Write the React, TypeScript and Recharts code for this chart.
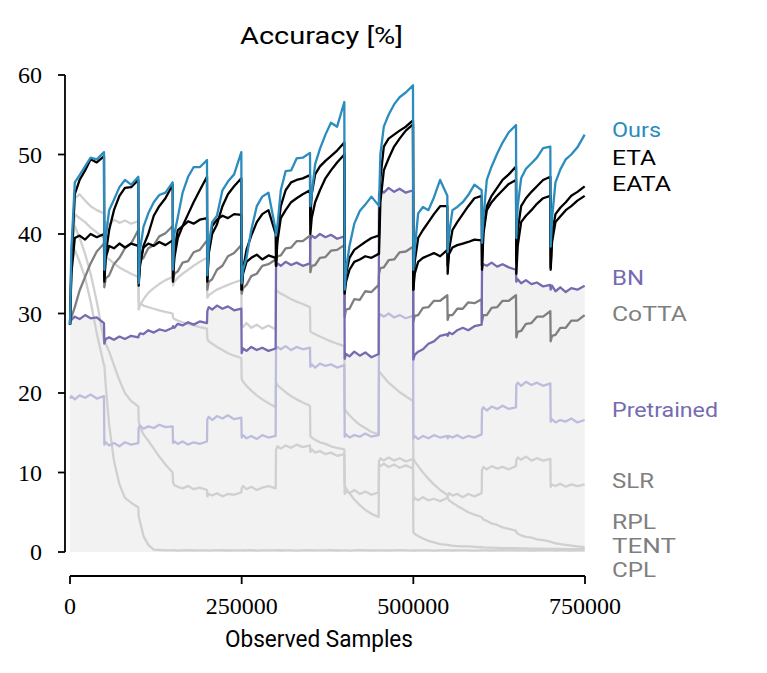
import React from 'react';
import { ComposedChart, Line, Area, XAxis, YAxis, ReferenceLine } from 'recharts';

// ---------- data ----------
const SEGMENT_SIZE = 50000;
const SEGMENT_OFFSETS = [0, 2000, 7000, 14000, 22000, 30000, 39000, 49500];
const NUM_SEGMENTS = 15;
const X_TICKS = [0, 250000, 500000, 750000];
const Y_TICKS = [0, 10, 20, 30, 40, 50, 60];

const OURS = [
  [28.6, 38.0, 46.5, 47.4, 48.5, 49.6, 49.4, 50.3],
  [35.5, 39.5, 43.0, 44.3, 45.9, 46.8, 46.2, 47.2],
  [33.8, 38.0, 40.9, 42.6, 44.0, 44.9, 45.2, 46.5],
  [35.5, 40.0, 42.1, 45.2, 47.2, 48.4, 48.4, 49.3],
  [34.8, 38.5, 41.5, 42.3, 45.5, 46.6, 47.5, 50.3],
  [33.8, 35.5, 37.0, 40.5, 43.5, 44.7, 45.2, 40.5],
  [39.8, 41.0, 45.5, 47.9, 48.0, 49.5, 49.6, 50.2],
  [43.5, 45.0, 48.8, 50.7, 52.5, 54.0, 53.5, 56.6],
  [33.0, 35.5, 38.5, 41.3, 42.9, 43.7, 44.7, 43.6],
  [43.5, 50.0, 53.5, 55.0, 56.3, 57.2, 57.8, 58.7],
  [35.5, 38.0, 42.6, 43.4, 43.0, 44.6, 46.8, 44.8],
  [37.7, 40.0, 43.0, 43.4, 44.0, 44.9, 46.2, 45.5],
  [38.9, 42.0, 46.8, 48.5, 50.1, 51.5, 52.8, 53.7],
  [39.5, 43.5, 47.0, 48.2, 48.9, 49.6, 50.8, 51.0],
  [38.4, 42.0, 46.5, 48.1, 49.4, 50.0, 50.9, 52.5],
];

const ETA = [
  [28.6, 36.0, 45.0, 46.8, 48.0, 49.4, 49.0, 49.8],
  [34.5, 37.5, 40.5, 43.0, 44.8, 45.8, 45.9, 46.8],
  [34.0, 36.0, 38.5, 40.0, 42.3, 43.5, 44.5, 46.2],
  [34.5, 37.0, 39.5, 41.0, 42.5, 44.0, 45.5, 47.2],
  [34.5, 37.5, 40.0, 41.2, 43.5, 45.0, 46.0, 47.0],
  [33.0, 35.5, 38.0, 39.8, 41.5, 42.5, 43.0, 40.0],
  [36.0, 40.0, 43.5, 45.5, 46.5, 46.8, 47.0, 47.4],
  [42.0, 45.0, 47.5, 48.5, 49.2, 49.8, 50.5, 51.5],
  [33.0, 35.0, 37.0, 38.0, 38.5, 39.0, 39.5, 39.8],
  [39.8, 47.0, 51.0, 52.0, 52.5, 53.0, 53.5, 54.3],
  [33.0, 36.5, 39.5, 40.5, 41.5, 42.5, 43.5, 43.5],
  [35.0, 38.0, 40.5, 41.5, 42.5, 43.5, 44.5, 44.8],
  [36.0, 40.5, 43.5, 44.8, 45.8, 46.8, 47.5, 48.5],
  [36.5, 40.5, 43.5, 44.5, 45.3, 46.0, 46.8, 47.2],
  [35.8, 40.0, 42.5, 43.3, 44.0, 44.8, 45.3, 46.0],
];

const EATA = [
  [28.6, 35.0, 39.5, 39.8, 39.3, 40.0, 39.6, 40.0],
  [34.0, 37.0, 38.5, 38.2, 38.8, 38.3, 38.8, 38.5],
  [33.5, 36.5, 38.3, 38.8, 38.5, 39.0, 38.6, 39.2],
  [34.0, 38.0, 40.5, 41.0, 41.6, 41.3, 41.8, 42.0],
  [34.0, 38.0, 41.0, 41.8, 42.3, 42.0, 42.5, 42.4],
  [33.0, 35.0, 36.5, 37.0, 37.4, 36.8, 37.3, 37.0],
  [36.0, 39.0, 42.0, 43.0, 44.0, 44.5, 45.0, 45.5],
  [40.0, 42.0, 44.0, 45.5, 47.0, 48.0, 49.0, 50.0],
  [32.5, 34.0, 35.5, 36.5, 36.8, 37.2, 37.0, 37.5],
  [37.5, 44.0, 48.0, 49.5, 51.0, 52.0, 53.0, 53.8],
  [33.0, 35.0, 36.5, 37.0, 37.3, 37.6, 37.2, 38.0],
  [36.0, 37.5, 38.3, 38.6, 38.8, 39.0, 39.3, 39.2],
  [35.5, 40.0, 43.0, 44.0, 44.8, 45.5, 46.3, 46.8],
  [35.0, 38.5, 41.5, 42.3, 43.0, 43.8, 44.5, 44.8],
  [35.5, 39.0, 41.5, 42.2, 43.0, 43.5, 44.2, 44.8],
];

const BN = [
  [28.8, 29.2, 29.6, 29.3, 29.8, 29.4, 29.5, 28.8],
  [26.2, 26.8, 27.0, 26.7, 27.1, 26.8, 27.2, 27.0],
  [27.2, 27.5, 27.4, 27.9, 27.6, 28.0, 27.8, 28.2],
  [28.4, 28.2, 28.7, 28.5, 28.9, 28.6, 29.0, 28.8],
  [30.3, 30.8, 30.5, 31.0, 30.6, 30.9, 30.4, 30.6],
  [25.0, 25.6, 25.3, 25.8, 25.4, 25.7, 25.3, 25.6],
  [35.8, 36.3, 36.0, 36.5, 36.1, 36.4, 36.0, 36.3],
  [39.3, 39.8, 39.5, 40.0, 39.6, 39.9, 39.4, 39.7],
  [24.3, 24.9, 24.6, 25.2, 24.7, 25.1, 24.5, 24.9],
  [45.0, 45.6, 45.2, 45.8, 45.3, 45.7, 45.2, 45.5],
  [24.2, 24.8, 25.2, 25.5, 26.2, 26.5, 27.2, 27.4],
  [27.2, 27.6, 27.4, 27.9, 28.2, 27.9, 28.4, 28.6],
  [35.6, 36.2, 36.0, 36.4, 35.9, 36.2, 35.8, 35.5],
  [34.0, 34.3, 33.8, 34.2, 33.7, 33.9, 33.4, 33.6],
  [33.0, 33.5, 32.8, 33.3, 32.7, 33.2, 33.0, 33.5],
];

const COTTA = [
  [28.6, 29.5, 30.8, 32.9, 34.6, 36.3, 37.8, 38.8],
  [33.3, 34.4, 34.8, 36.2, 37.0, 38.2, 38.8, 40.5],
  [36.0, 36.6, 37.0, 38.2, 38.6, 39.7, 40.1, 41.0],
  [34.0, 35.0, 35.3, 36.4, 36.6, 37.7, 38.0, 39.2],
  [33.0, 34.0, 34.3, 35.5, 36.0, 37.2, 37.6, 38.6],
  [32.5, 33.2, 33.6, 34.7, 35.0, 36.0, 36.2, 36.8],
  [36.5, 37.2, 37.3, 38.2, 38.3, 39.1, 39.1, 39.8],
  [35.2, 36.0, 36.1, 37.0, 37.1, 37.9, 38.0, 38.6],
  [29.6, 30.5, 30.6, 31.8, 31.7, 32.8, 32.7, 33.6],
  [35.0, 35.7, 35.8, 36.7, 36.8, 37.7, 37.8, 38.4],
  [29.0, 29.7, 29.8, 30.7, 30.8, 31.6, 31.6, 32.3],
  [29.2, 29.8, 29.8, 30.6, 30.6, 31.4, 31.3, 31.8],
  [29.0, 29.8, 29.8, 30.7, 30.8, 31.6, 31.6, 32.3],
  [27.0, 27.7, 27.8, 28.7, 28.8, 29.6, 29.6, 30.3],
  [26.5, 27.2, 27.3, 28.2, 28.2, 29.1, 29.1, 29.8],
];

const PRETRAINED = [
  [19.3, 19.6, 19.2, 19.7, 19.4, 19.8, 19.3, 19.6],
  [13.5, 13.8, 13.4, 13.7, 13.3, 13.8, 13.5, 13.7],
  [15.6, 15.9, 15.5, 15.8, 15.6, 16.0, 15.7, 15.8],
  [13.7, 13.9, 13.6, 13.9, 13.5, 13.8, 13.6, 13.9],
  [16.7, 17.0, 16.6, 17.1, 16.8, 17.2, 16.7, 16.9],
  [14.4, 14.7, 14.3, 14.6, 14.2, 14.7, 14.4, 14.6],
  [25.4, 25.8, 25.5, 25.9, 25.4, 25.8, 25.5, 25.7],
  [23.3, 23.6, 23.2, 23.7, 23.4, 23.6, 23.2, 23.5],
  [14.5, 14.8, 14.4, 14.7, 14.5, 14.9, 14.5, 14.7],
  [29.5, 29.9, 29.6, 30.0, 29.5, 29.8, 29.4, 29.7],
  [14.3, 14.6, 14.2, 14.6, 14.3, 14.7, 14.4, 14.6],
  [14.3, 14.6, 14.4, 14.7, 14.3, 14.6, 14.4, 14.8],
  [17.9, 18.2, 17.8, 18.3, 18.0, 18.4, 18.0, 18.2],
  [21.0, 21.3, 20.9, 21.4, 21.0, 21.3, 20.9, 21.2],
  [16.4, 16.7, 16.3, 16.6, 16.4, 16.8, 16.3, 16.6],
];

const SLR = [
  [28.6, 38.0, 41.0, 39.5, 37.5, 35.0, 31.5, 26.5],
  [26.5, 26.2, 25.2, 23.5, 21.6, 20.0, 19.0, 18.3],
  [16.5, 15.7, 14.8, 14.0, 13.0, 12.0, 11.0, 10.0],
  [8.8, 8.4, 8.2, 8.0, 8.3, 7.9, 8.1, 7.8],
  [7.0, 7.3, 7.1, 7.4, 7.0, 7.3, 7.2, 7.5],
  [8.0, 8.3, 7.9, 8.2, 7.8, 8.1, 8.3, 8.0],
  [12.8, 13.3, 13.0, 13.4, 13.1, 13.5, 13.2, 13.4],
  [12.6, 12.9, 12.5, 12.7, 12.3, 12.5, 12.1, 12.3],
  [7.3, 7.6, 7.4, 7.8, 7.3, 7.6, 7.2, 7.5],
  [11.4, 11.8, 11.5, 11.9, 11.5, 11.8, 11.4, 11.7],
  [6.4, 6.8, 6.5, 6.9, 6.5, 6.7, 6.4, 6.8],
  [7.0, 7.4, 7.1, 7.3, 6.9, 7.3, 7.0, 7.4],
  [10.3, 10.7, 10.4, 10.8, 10.5, 10.7, 10.4, 10.8],
  [11.5, 11.9, 11.6, 12.0, 11.5, 11.8, 11.5, 11.7],
  [8.2, 8.5, 8.3, 8.6, 8.2, 8.5, 8.3, 8.5],
];

const RPL = [
  [28.6, 38.0, 44.5, 45.0, 44.2, 43.5, 43.0, 42.6],
  [41.0, 41.5, 41.2, 41.8, 41.4, 41.7, 41.3, 41.6],
  [30.5, 31.0, 31.8, 32.6, 33.2, 33.7, 34.2, 34.6],
  [33.5, 34.0, 34.5, 35.0, 35.5, 36.0, 36.5, 37.0],
  [32.0, 32.3, 32.6, 33.0, 33.3, 33.6, 33.9, 34.2],
  [28.6, 28.3, 28.8, 28.2, 28.6, 28.1, 28.5, 28.0],
  [33.0, 32.8, 32.5, 32.2, 31.8, 31.5, 31.2, 30.8],
  [27.8, 27.6, 27.4, 27.1, 26.8, 26.5, 26.2, 25.9],
  [18.0, 17.7, 17.2, 16.6, 16.0, 15.6, 15.1, 14.8],
  [22.8, 22.5, 22.0, 21.3, 20.7, 20.1, 19.6, 19.0],
  [11.8, 11.4, 10.8, 10.0, 9.2, 8.5, 7.8, 7.2],
  [6.8, 6.5, 6.2, 5.8, 5.4, 5.0, 4.7, 4.4],
  [4.3, 4.1, 3.9, 3.6, 3.4, 3.1, 2.9, 2.7],
  [2.5, 2.3, 2.1, 1.9, 1.8, 1.6, 1.5, 1.3],
  [1.3, 1.2, 1.1, 1.0, 0.9, 0.8, 0.7, 0.6],
];

const TENT = [
  [28.6, 37.0, 42.5, 42.0, 41.5, 40.8, 40.2, 39.5],
  [37.5, 37.2, 36.8, 36.3, 35.8, 35.4, 35.0, 34.6],
  [31.5, 31.3, 31.0, 30.8, 30.6, 30.4, 30.2, 30.0],
  [29.5, 29.3, 29.1, 28.9, 28.7, 28.5, 28.3, 28.1],
  [26.8, 26.5, 26.2, 25.8, 25.4, 25.0, 24.7, 24.4],
  [21.8, 21.4, 20.9, 20.3, 19.7, 19.2, 18.7, 18.2],
  [21.3, 21.0, 20.6, 20.1, 19.6, 19.2, 18.8, 18.4],
  [14.6, 14.4, 14.1, 13.8, 13.6, 13.3, 13.1, 12.9],
  [8.3, 8.0, 7.4, 6.6, 5.9, 5.3, 4.8, 4.4],
  [11.0, 10.8, 11.1, 10.7, 11.0, 10.6, 10.9, 10.5],
  [2.5, 2.3, 2.0, 1.7, 1.4, 1.2, 1.0, 0.9],
  [0.9, 0.85, 0.8, 0.75, 0.7, 0.7, 0.65, 0.6],
  [0.6, 0.58, 0.55, 0.55, 0.52, 0.5, 0.5, 0.48],
  [0.48, 0.46, 0.45, 0.45, 0.43, 0.42, 0.42, 0.4],
  [0.4, 0.4, 0.38, 0.38, 0.36, 0.36, 0.35, 0.35],
];

const CPL = [
  [28.6, 36.0, 38.0, 36.5, 34.5, 31.5, 27.5, 23.5],
  [23.5, 21.0, 16.0, 11.5, 8.5, 6.8, 6.2, 5.6],
  [4.5, 3.8, 2.0, 0.9, 0.3, 0.25, 0.2, 0.2],
  [0.2, 0.22, 0.18, 0.2, 0.23, 0.19, 0.2, 0.21],
  [0.2, 0.18, 0.21, 0.2, 0.22, 0.19, 0.2, 0.2],
  [0.21, 0.19, 0.2, 0.22, 0.18, 0.2, 0.21, 0.2],
  [0.2, 0.22, 0.19, 0.2, 0.21, 0.18, 0.2, 0.22],
  [0.2, 0.19, 0.21, 0.2, 0.2, 0.22, 0.19, 0.2],
  [0.21, 0.2, 0.18, 0.2, 0.22, 0.2, 0.19, 0.2],
  [0.2, 0.21, 0.2, 0.19, 0.2, 0.22, 0.2, 0.18],
  [0.2, 0.19, 0.21, 0.2, 0.2, 0.18, 0.21, 0.2],
  [0.22, 0.2, 0.19, 0.2, 0.21, 0.2, 0.18, 0.2],
  [0.2, 0.21, 0.2, 0.19, 0.2, 0.22, 0.2, 0.2],
  [0.19, 0.2, 0.21, 0.2, 0.18, 0.2, 0.21, 0.2],
  [0.2, 0.2, 0.19, 0.21, 0.2, 0.19, 0.2, 0.2],
];

// ---------- styling ----------
const BLUE = '#2b8cbe';
const PURPLE = '#756bb1';
const LIGHT_PURPLE = '#bcbddc';
const DARK_GRAY = '#7f7f7f';
const LIGHT_GRAY = '#d0d0d0';
const FILL_GRAY = '#f2f2f2';

const SERIES = [
  { key: 'cpl', color: LIGHT_GRAY },
  { key: 'tent', color: LIGHT_GRAY },
  { key: 'rpl', color: LIGHT_GRAY },
  { key: 'slr', color: LIGHT_GRAY },
  { key: 'pretrained', color: LIGHT_PURPLE },
  { key: 'cotta', color: DARK_GRAY },
  { key: 'bn', color: PURPLE },
  { key: 'eata', color: '#000000' },
  { key: 'eta', color: '#000000' },
  { key: 'ours', color: BLUE },
];

const LEGEND = [
  { name: 'Ours', color: BLUE, base: 137, w: 49 },
  { name: 'ETA', color: '#000000', base: 165, w: 44 },
  { name: 'EATA', color: '#000000', base: 191, w: 59 },
  { name: 'BN', color: PURPLE, base: 285, w: 32 },
  { name: 'CoTTA', color: DARK_GRAY, base: 321, w: 75 },
  { name: 'Pretrained', color: PURPLE, base: 417, w: 106 },
  { name: 'SLR', color: DARK_GRAY, base: 488, w: 42 },
  { name: 'RPL', color: DARK_GRAY, base: 529, w: 44 },
  { name: 'TENT', color: DARK_GRAY, base: 553, w: 64 },
  { name: 'CPL', color: DARK_GRAY, base: 577, w: 44 },
];

const SAMPLES = Array.from({ length: NUM_SEGMENTS }, (_, s) =>
  SEGMENT_OFFSETS.map((o) => s * SEGMENT_SIZE + o)
).flat();

const F = {
  ours: OURS.flat(), eta: ETA.flat(), eata: EATA.flat(), bn: BN.flat(),
  cotta: COTTA.flat(), pretrained: PRETRAINED.flat(), slr: SLR.flat(),
  rpl: RPL.flat(), tent: TENT.flat(), cpl: CPL.flat(),
};

const DATA = SAMPLES.map((x, i) => {
  const row: any = { x };
  Object.keys(F).forEach((k) => { row[k] = (F as any)[k][i]; });
  return row;
});

const SERIF = '"Liberation Serif", "DejaVu Serif", serif';
const SANS = 'Roboto, "DejaVu Sans", sans-serif';

const XTick = (props: any) => {
  const { x, y, payload } = props;
  return (
    <g>
      <line x1={x} x2={x} y1={y + 24} y2={y + 32} stroke="#000" strokeWidth={1.8} />
      <text x={x} y={y + 62} textAnchor="middle" style={{ fontFamily: SERIF, fontSize: 24 }} fill="#000">
        {payload.value}
      </text>
    </g>
  );
};

const YTick = (props: any) => {
  const { x, y, payload } = props;
  return (
    <g>
      <line x1={x - 12} x2={x - 5} y1={y} y2={y} stroke="#000" strokeWidth={1.8} />
      <text x={x - 28} y={y + 8} textAnchor="end" style={{ fontFamily: SERIF, fontSize: 24 }} fill="#000">
        {payload.value}
      </text>
    </g>
  );
};

export default function App() {
  return (
    <div style={{ position: 'absolute', left: 0, top: 0, width: 767, height: 673, background: '#fff' }}>
      <ComposedChart
        width={767}
        height={673}
        data={DATA}
        margin={{ top: 75, right: 182, bottom: 61, left: 0 }}
      >
        <XAxis
          dataKey="x"
          type="number"
          domain={[0, 750000]}
          ticks={X_TICKS}
          axisLine={false}
          tickLine={false}
          tickSize={0}
          tickMargin={0}
          height={60}
          tick={<XTick />}
          interval={0}
        />
        <YAxis
          type="number"
          domain={[0, 60]}
          ticks={Y_TICKS}
          axisLine={false}
          tickLine={false}
          tickSize={0}
          tickMargin={0}
          width={70}
          tick={<YTick />}
          interval={0}
        />
        <Area
          dataKey="bn"
          type="linear"
          stroke="none"
          fill={FILL_GRAY}
          fillOpacity={1}
          baseValue={0}
          isAnimationActive={false}
          dot={false}
          activeDot={false}
        />
        {SERIES.map((s) => (
          <Line
            key={s.key}
            dataKey={s.key}
            type="linear"
            stroke={s.color}
            strokeWidth={2.3}
            strokeLinejoin="round"
            dot={false}
            activeDot={false}
            isAnimationActive={false}
          />
        ))}
        <ReferenceLine
          segment={[{ x: 0, y: -3.02 }, { x: 750000, y: -3.02 }]}
          stroke="#000"
          strokeWidth={1.8}
          ifOverflow="visible"
        />
        <ReferenceLine
          segment={[{ x: -7300, y: 0 }, { x: -7300, y: 60 }]}
          stroke="#000"
          strokeWidth={1.8}
          ifOverflow="visible"
        />
      </ComposedChart>
      <svg
        width={767}
        height={673}
        style={{ position: 'absolute', left: 0, top: 0, pointerEvents: 'none' }}
      >
        <text x={240} y={44} style={{ fontFamily: SANS, fontSize: 24 }} fill="#000" textLength={163} lengthAdjust="spacingAndGlyphs">
          Accuracy [%]
        </text>
        <text x={225} y={647} style={{ fontFamily: SANS, fontSize: 24 }} fill="#000" textLength={188} lengthAdjust="spacingAndGlyphs">
          Observed Samples
        </text>
        {LEGEND.map((l) => (
          <text key={l.name} x={612} y={l.base} style={{ fontFamily: SANS, fontSize: 20 }} fill={l.color} textLength={l.w} lengthAdjust="spacingAndGlyphs">
            {l.name}
          </text>
        ))}
      </svg>
    </div>
  );
}
